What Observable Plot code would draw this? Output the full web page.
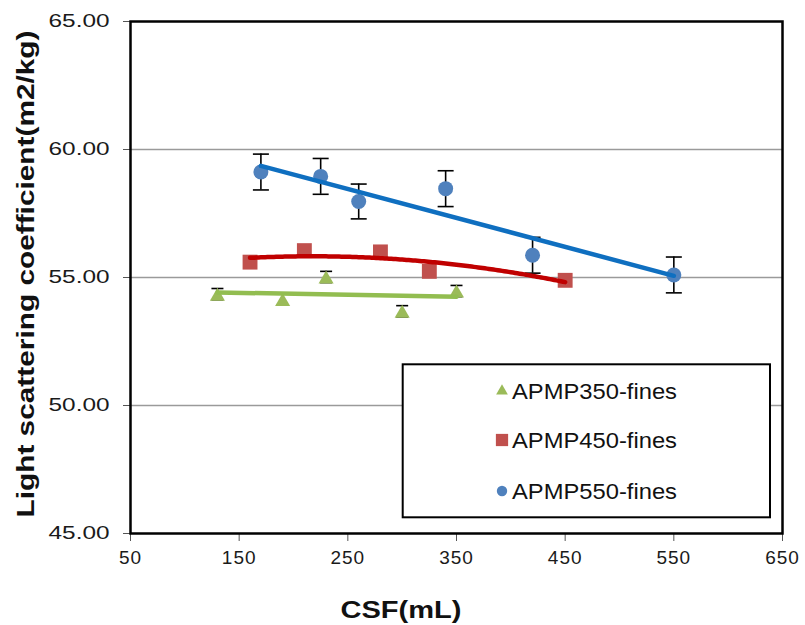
<!DOCTYPE html>
<html>
<head>
<meta charset="utf-8">
<script src="https://cdn.jsdelivr.net/npm/d3@7"></script>
<script src="https://cdn.jsdelivr.net/npm/@observablehq/plot@0.6"></script>
<style>
  html, body { margin: 0; padding: 0; background: #fff; }
  #chart { width: 805px; height: 625px; }
</style>
</head>
<body>
<div id="chart"></div>
<script>
// ---- data ----
const xTicks = [50, 150, 250, 350, 450, 550, 650];
const yTicks = [45, 50, 55, 60, 65];
const gridValues = [50, 55, 60];

const seriesNames = ["APMP350-fines", "APMP450-fines", "APMP550-fines"];

const csf350 = [130, 190, 230, 300, 350];
const lsc350 = [54.35, 54.14, 55.02, 53.68, 54.47];
const err350 = [0.22, 0.22, 0.22, 0.22, 0.22];

const csf450 = [160, 210, 280, 325, 450];
const lsc450 = [55.6, 56.05, 56.0, 55.24, 54.89];

const csf550 = [170, 225, 260, 340, 420, 550];
const lsc550 = [59.12, 58.95, 57.97, 58.47, 55.87, 55.1];
const err550 = [0.7, 0.7, 0.68, 0.7, 0.7, 0.7];

const colors = {
  g: "#9bbb59", gLine: "#92bd50",
  r: "#c0504d", rLine: "#c00000",
  b: "#4f81bd", bLine: "#0f6fc0"
};

// ---- tables built from the arrays ----
const s350 = csf350.map((x, i) => ({x, y: lsc350[i], e: err350[i]}));
const s450 = csf450.map((x, i) => ({x, y: lsc450[i]}));
const s550 = csf550.map((x, i) => ({x, y: lsc550[i], e: err550[i]}));

// second-order polynomial trend line (least squares) for APMP450
function quadFit(xs, ys) {
  const n = xs.length;
  let S = [0, 0, 0, 0, 0], T = [0, 0, 0];
  for (let i = 0; i < n; i++) {
    const x = xs[i], y = ys[i];
    for (let k = 0; k < 5; k++) S[k] += Math.pow(x, k);
    for (let k = 0; k < 3; k++) T[k] += y * Math.pow(x, k);
  }
  const A = [[S[0], S[1], S[2], T[0]], [S[1], S[2], S[3], T[1]], [S[2], S[3], S[4], T[2]]];
  for (let c = 0; c < 3; c++) {
    for (let r = c + 1; r < 3; r++) {
      const f = A[r][c] / A[c][c];
      for (let k = c; k < 4; k++) A[r][k] -= f * A[c][k];
    }
  }
  const coef = [0, 0, 0];
  for (let r = 2; r >= 0; r--) {
    let s = A[r][3];
    for (let k = r + 1; k < 3; k++) s -= A[r][k] * coef[k];
    coef[r] = s / A[r][r];
  }
  return x => coef[0] + coef[1] * x + coef[2] * x * x;
}
const f450 = quadFit(csf450, lsc450);
const curve450 = d3.range(d3.min(csf450), d3.max(csf450) + 0.01, 2).map(x => ({x, y: f450(x)}));

// cap symbol for error bars
const capSymbol = {
  draw(ctx, size) {
    const r = Math.sqrt(size / Math.PI);
    ctx.moveTo(-r, 0);
    ctx.lineTo(r, 0);
  }
};

const capMarks = (data, r) => [
  Plot.ruleX(data, {x: "x", y1: d => d.y - d.e, y2: d => d.y + d.e, stroke: "black", strokeWidth: 1.6}),
  Plot.dot(data, {x: "x", y: d => d.y + d.e, symbol: capSymbol, r, stroke: "black", strokeWidth: 1.6, fill: "none"}),
  Plot.dot(data, {x: "x", y: d => d.y - d.e, symbol: capSymbol, r, stroke: "black", strokeWidth: 1.6, fill: "none"})
];

const chart = Plot.plot({
  width: 805,
  height: 625,
  marginLeft: 130,
  marginRight: 23,
  marginTop: 21,
  marginBottom: 92,
  style: {fontFamily: "'Liberation Sans', Arial, sans-serif", background: "#fff", color: "#1a1a1a"},
  x: {domain: [50, 650]},
  y: {domain: [45, 65]},
  marks: [
    Plot.gridY(gridValues, {stroke: "#9a9a9a", strokeOpacity: 1, strokeWidth: 1.4}),
    Plot.axisY(yTicks, {tickSize: 7, tickPadding: 14, tickFormat: d => d.toFixed(2), fontSize: 18, label: null, stroke: "#555"}),
    Plot.axisX(xTicks, {tickSize: 8, tickPadding: 9, fontSize: 19, label: null, stroke: "#555"}),
    // error bars
    ...capMarks(s350, 6),
    ...capMarks(s550, 8),
    // markers
    Plot.dot(s350, {x: "x", y: "y", symbol: "triangle", r: 5.6, dy: 2.2, fill: colors.g, stroke: "none"}),
    Plot.dot(s450, {x: "x", y: "y", symbol: "square", r: 8.4, fill: colors.r, stroke: "none"}),
    Plot.dot(s550, {x: "x", y: "y", symbol: "circle", r: 7.5, fill: colors.b, stroke: "none"}),
    // trend lines
    Plot.linearRegressionY(s350, {x: "x", y: "y", stroke: colors.gLine, strokeWidth: 4.5, ci: 0}),
    Plot.line(curve450, {x: "x", y: "y", stroke: colors.rLine, strokeWidth: 4.5}),
    Plot.linearRegressionY(s550, {x: "x", y: "y", stroke: colors.bLine, strokeWidth: 4.5, ci: 0}),
    Plot.frame({stroke: "black", strokeWidth: 2.5})
  ]
});

document.getElementById("chart").appendChild(chart);

const svg = d3.select(chart);
svg.selectAll('g[aria-label="y-axis tick label"] text')
  .attr("textLength", 61).attr("lengthAdjust", "spacingAndGlyphs");
svg.selectAll('g[aria-label="x-axis tick label"] text')
  .style("letter-spacing", "1px");

// axis titles
svg.append("text")
  .attr("transform", "translate(34,274) rotate(-90)")
  .attr("text-anchor", "middle")
  .attr("font-weight", "bold")
  .attr("font-size", 24)
  .attr("fill", "#111")
  .attr("textLength", 487).attr("lengthAdjust", "spacingAndGlyphs")
  .text("Light scattering coefficient(m2/kg)");

svg.append("text")
  .attr("x", 401).attr("y", 618)
  .attr("text-anchor", "middle")
  .attr("font-weight", "bold")
  .attr("font-size", 23)
  .attr("fill", "#111")
  .attr("textLength", 121).attr("lengthAdjust", "spacingAndGlyphs")
  .text("CSF(mL)");

// legend
const lg = svg.append("g").attr("class", "legend");
lg.append("rect")
  .attr("x", 402.7).attr("y", 364.3).attr("width", 367.3).attr("height", 153)
  .attr("fill", "#fff").attr("stroke", "black").attr("stroke-width", 2);
const legendItems = [
  {name: seriesNames[0], color: colors.g, sym: d3.symbolTriangle, size: 60, cy: 391},
  {name: seriesNames[1], color: colors.r, sym: d3.symbolSquare, size: 150, cy: 440},
  {name: seriesNames[2], color: colors.b, sym: d3.symbolCircle, size: 85, cy: 491}
];
legendItems.forEach(it => {
  lg.append("path")
    .attr("d", d3.symbol(it.sym, it.size)())
    .attr("transform", `translate(502,${it.cy})`)
    .attr("fill", it.color);
  lg.append("text")
    .attr("x", 512).attr("y", it.cy + 7.5)
    .attr("text-anchor", "start")
    .attr("font-size", 22)
    .attr("fill", "#111")
    .attr("textLength", 165).attr("lengthAdjust", "spacingAndGlyphs")
    .text(it.name);
});
</script>
</body>
</html>
